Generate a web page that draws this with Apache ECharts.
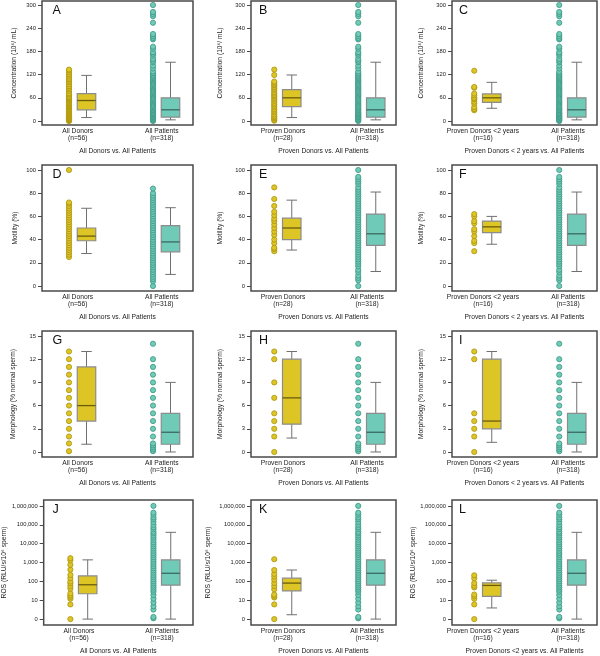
<!DOCTYPE html>
<html><head><meta charset="utf-8">
<script src="https://cdn.jsdelivr.net/npm/echarts@6/dist/echarts.min.js"></script>
<style>html,body{margin:0;padding:0;background:#fff}#c{width:600px;height:656px}</style>
</head><body><div id="c"></div>
<script>
// ---------- DATA ----------
const panelLetters = ['A','B','C','D','E','F','G','H','I','J','K','L'];
const donorCategories = ['All Donors\n(n=56)', 'Proven Donors\n(n=28)', 'Proven Donors <2 years\n(n=16)'];
const patientCategory = 'All Patients\n(n=318)';
const comparisonTitles = [
  ['All Donors vs. All Patients', 'Proven Donors vs. All Patients', 'Proven Donors < 2 years vs. All Patients'],
  ['All Donors vs. All Patients', 'Proven Donors vs. All Patients', 'Proven Donors < 2 years vs. All Patients'],
  ['All Donors vs. All Patients', 'Proven Donors vs. All Patients', 'Proven Donors < 2 years vs. All Patients'],
  ['All Donors vs. All Patients', 'Proven Donors vs. All Patients', 'Proven Donors <2 years vs. All Patients']
];
const yAxisNames = ['Concentration (10⁶/ mL)', 'Motility (%)', 'Morphology (% normal sperm)', 'ROS (RLU/s/10⁶ sperm)'];
const concTicks = [0, 60, 120, 180, 240, 300];
const motTicks = [0, 20, 40, 60, 80, 100];
const morphTicks = [0, 3, 6, 9, 12, 15];
const rosTicks = [0, 10, 100, 1000, 10000, 100000, 1000000];

// Concentration (10^6/mL)
const concAllDonors = [0, 1, 2, 3, 4, 5, 6, 7, 8, 9, 10, 12, 14, 16, 18, 20, 22, 24, 26, 28, 30, 32, 34, 36, 38, 40, 42, 44, 46, 48, 50, 52, 54, 56, 58, 60, 62, 65, 69, 72, 78, 82, 86, 90, 95, 100, 104, 108, 112, 117, 121, 126, 131, 133];
const concProvenDonors = [1, 4, 7, 10, 13, 17, 22, 26, 30, 35, 39, 43, 47, 52, 56, 60, 64, 67, 71, 75, 80, 84, 88, 92, 95, 99, 102, 119, 133];
const concProvenU2 = [28, 31, 36, 45, 50, 56, 59, 60, 66, 71, 86, 88, 130];
const concPatients = [0, 2, 4, 6, 8, 10, 12, 14, 16, 18, 20, 22, 25, 28, 30, 33, 36, 39, 42, 45, 48, 51, 54, 57, 60, 63, 66, 69, 72, 75, 78, 81, 84, 87, 90, 93, 96, 99, 102, 105, 108, 111, 114, 117, 120, 124, 128, 136, 143, 152, 156, 161, 169, 174, 178, 187, 192, 211, 215, 220, 225, 254, 271, 277, 282, 300];
const concBoxAllDonors = [9, 29, 53, 71, 118];
const concBoxProven = [9, 37, 60, 81, 119];
const concBoxProvenU2 = [33, 48, 60, 70, 100];
const concBoxPatients = [3, 10, 29, 60, 152];

// Motility (%)
const motAllDonors = [25, 27, 29, 31, 33, 35, 37, 39, 41, 43, 45, 47, 49, 51, 53, 55, 57, 59, 61, 63, 65, 67, 69, 71, 72, 100];
const motProvenDonors = [30, 32, 33, 37, 40, 44, 47, 50, 53, 56, 58, 61, 64, 69, 75, 85];
const motProvenU2 = [30, 37, 39, 43, 47, 49, 54, 56, 60, 62];
const motPatientsD = [0, 4, 6, 8, 10, 12, 14, 16, 18, 20, 22, 24, 26, 28, 30, 32, 34, 36, 38, 40, 42, 44, 46, 48, 50, 52, 54, 56, 58, 60, 62, 64, 66, 68, 70, 72, 74, 76, 78, 80, 84];
const motPatientsEF = [0, 5, 7, 9, 12, 14, 17, 19, 21, 23, 25, 27, 29, 31, 33, 35, 37, 39, 41, 43, 45, 47, 49, 51, 53, 55, 57, 59, 61, 63, 65, 67, 69, 71, 73, 75, 77, 79, 81, 83, 85, 88, 90, 92, 94, 100];
const motBoxAllDonors = [28, 39, 43, 50, 67];
const motBoxProven = [31, 40, 50, 58.5, 74];
const motBoxProvenU2 = [36, 46, 51, 56, 60];
const motBoxPatientsD = [10, 29.5, 38, 52, 67.5];
const motBoxPatientsEF = [12.5, 35, 45, 62, 81];

// Morphology (% normal sperm)
const morphAllDonors = [0.1, 1.1, 2, 3, 4, 5, 6, 7, 8, 9, 10, 11, 12, 13];
const morphProvenDonors = [0, 2, 3, 4, 5, 7, 9, 12, 13];
const morphProvenU2 = [0, 2, 3, 4, 5, 12, 13];
const morphPatients = [0.1, 0.35, 0.6, 0.85, 1.1, 2, 3, 4, 5, 6, 7, 8, 9, 10, 11, 12, 14];
const morphBoxAllDonors = [1, 4, 6, 11, 13];
const morphBoxProven = [1.8, 3.6, 7, 12, 13];
const morphBoxProvenU2 = [1.25, 3, 4, 12, 13];
const morphBoxPatients = [0, 1, 2.55, 5, 9];

// ROS (RLU/s/10^6 sperm)
const rosAllDonors = [0, 6, 12, 15, 18, 23, 41, 56, 78, 98, 147, 220, 415, 760, 1300, 1700];
const rosProvenDonors = [0, 6, 14, 17, 20, 38, 56, 81, 125, 180, 247, 400, 1490];
const rosProvenU2 = [0, 6, 12, 16, 20, 48, 59, 81, 147, 210];
const rosPatients = [1.1, 1.3, 3.2, 4.8, 7.6, 12, 19, 28, 36, 47, 60, 78, 100, 130, 170, 220, 290, 380, 500, 650, 850, 1100, 1450, 1900, 2500, 3200, 4200, 5500, 7200, 9400, 12000, 16000, 21000, 27000, 35000, 43000, 59000, 74000, 100000, 140000, 195000, 245000, 340000, 436000, 1000000];
const rosBoxAllDonors = [1, 22, 66, 195, 1380];
const rosBoxProven = [1.7, 31, 81, 147, 400];
const rosBoxProvenU2 = [3.9, 16, 61, 84, 115];
const rosBoxPatients = [1, 63, 268, 1380, 39800];

// ---------- LAYOUT / STYLE ----------
const FONT = '"Liberation Sans", Arial, Helvetica, sans-serif';
const YEL = '#DEC526', YEL_EDGE = '#A8930E', YEL_MED = '#6a5c10';
const TEAL = '#6FCAB7', TEAL_EDGE = '#3A9582', TEAL_MED = '#3c6a62';
const TXT = '#222';

const cols = [
  {left: 42, width: 151, g: [35.75, 119.75]},
  {left: 251, width: 145, g: [32, 116]},
  {left: 452, width: 145, g: [31, 116]}
];
const rows = [
  {top: 1, height: 124, min: -10.3, max: 310.3, ticks: concTicks, log: false, nameGap: [24, 27, 27]},
  {top: 165, height: 126, min: -4.3, max: 104.3, ticks: motTicks, log: false, nameGap: [23.5, 27.5, 27.5]},
  {top: 331, height: 126, min: -0.65, max: 15.65, ticks: morphTicks, log: false, nameGap: [25, 27, 27.5]},
  {top: 500, height: 127, min: -0.313, max: 6.313, ticks: rosTicks, log: true, nameGap: [35, 39, 34]}
];
const panelData = [
  [[concAllDonors, concBoxAllDonors, concPatients, concBoxPatients],
   [concProvenDonors, concBoxProven, concPatients, concBoxPatients],
   [concProvenU2, concBoxProvenU2, concPatients, concBoxPatients]],
  [[motAllDonors, motBoxAllDonors, motPatientsD, motBoxPatientsD],
   [motProvenDonors, motBoxProven, motPatientsEF, motBoxPatientsEF],
   [motProvenU2, motBoxProvenU2, motPatientsEF, motBoxPatientsEF]],
  [[morphAllDonors, morphBoxAllDonors, morphPatients, morphBoxPatients],
   [morphProvenDonors, morphBoxProven, morphPatients, morphBoxPatients],
   [morphProvenU2, morphBoxProvenU2, morphPatients, morphBoxPatients]],
  [[rosAllDonors, rosBoxAllDonors, rosPatients, rosBoxPatients],
   [rosProvenDonors, rosBoxProven, rosPatients, rosBoxPatients],
   [rosProvenU2, rosBoxProvenU2, rosPatients, rosBoxPatients]]
];

function tf(log) { return log ? (v => Math.log10(Math.max(v, 1))) : (v => v); }

function boxRenderer(fill, med) {
  return function (params, api) {
    const x = api.value(0);
    const lo = api.coord([x, api.value(1)]);
    const q1 = api.coord([x, api.value(2)]);
    const md = api.coord([x, api.value(3)]);
    const q3 = api.coord([x, api.value(4)]);
    const hi = api.coord([x, api.value(5)]);
    const cx = lo[0], hw = 9.25, cw = 5.25;
    const ws = {stroke: '#707070', lineWidth: 1};
    return {type: 'group', children: [
      {type: 'line', shape: {x1: cx, y1: hi[1], x2: cx, y2: q3[1]}, style: ws},
      {type: 'line', shape: {x1: cx, y1: q1[1], x2: cx, y2: lo[1]}, style: ws},
      {type: 'line', shape: {x1: cx - cw, y1: hi[1], x2: cx + cw, y2: hi[1]}, style: ws},
      {type: 'line', shape: {x1: cx - cw, y1: lo[1], x2: cx + cw, y2: lo[1]}, style: ws},
      {type: 'rect', shape: {x: cx - hw, y: q3[1], width: 2 * hw, height: q1[1] - q3[1]},
       style: {fill: fill, stroke: '#8c8c8c', lineWidth: 1.2}},
      {type: 'line', shape: {x1: cx - hw, y1: md[1], x2: cx + hw, y2: md[1]}, style: {stroke: med, lineWidth: 1.3}}
    ]};
  };
}

const grids = [], xAxes = [], yAxes = [], series = [], titles = [];
let idx = 0;
rows.forEach((r, ri) => {
  const t = tf(r.log);
  cols.forEach((c, ci) => {
    const [dv, db, pv, pb] = panelData[ri][ci];
    grids.push({left: c.left, top: r.top, width: c.width, height: r.height,
      show: true, borderColor: '#4a4a4a', borderWidth: 1.5, backgroundColor: 'transparent'});
    const g1 = c.g[0], g2 = c.g[1];
    const donorLbl = donorCategories[ci];
    xAxes.push({gridIndex: idx, type: 'value', min: 0, max: c.width,
      axisLine: {show: false, onZero: false}, axisTick: {show: false}, splitLine: {show: false},
      axisLabel: {customValues: [g1, g2], margin: 3, fontSize: 6.7, lineHeight: 7, color: TXT, fontFamily: FONT,
        formatter: v => (Math.abs(v - g1) < 1 ? donorLbl : patientCategory)},
      name: comparisonTitles[ri][ci], nameLocation: 'middle', nameGap: 23,
      nameTextStyle: {fontSize: 6.7, color: TXT, fontFamily: FONT}});
    const tickVals = r.ticks.map(t);
    yAxes.push({gridIndex: idx, type: 'value', min: r.min, max: r.max,
      axisLine: {show: false, onZero: false}, splitLine: {show: false},
      axisTick: {show: true, customValues: tickVals, length: 4, lineStyle: {color: '#4a4a4a', width: 1}},
      axisLabel: {customValues: tickVals, margin: 6, fontSize: 5.8, color: TXT, fontFamily: FONT,
        formatter: v => r.log ? (v <= 0.0001 ? '0' : Math.round(Math.pow(10, v)).toLocaleString('en-US')) : String(Math.round(v))},
      name: yAxisNames[ri], nameLocation: 'middle', nameRotate: 90, nameGap: r.nameGap[ci],
      nameTextStyle: {fontSize: 6.7, color: TXT, fontFamily: FONT}});
    const dxD = g1 - 8.75, dxB = g1 + 8.75, pxD = g2 - 8.75, pxB = g2 + 8.75;
    series.push({type: 'scatter', xAxisIndex: idx, yAxisIndex: idx, symbolSize: 5.2, z: 3,
      itemStyle: {color: YEL, borderColor: YEL_EDGE, borderWidth: 0.8, opacity: 1},
      data: dv.map(v => [dxD, t(v)]), silent: true, clip: false});
    series.push({type: 'scatter', xAxisIndex: idx, yAxisIndex: idx, symbolSize: 5.2, z: 3,
      itemStyle: {color: TEAL, borderColor: TEAL_EDGE, borderWidth: 0.8, opacity: 1},
      data: pv.map(v => [pxD, t(v)]), silent: true, clip: false});
    series.push({type: 'custom', xAxisIndex: idx, yAxisIndex: idx, z: 2, silent: true,
      renderItem: boxRenderer(YEL, YEL_MED), encode: {x: 0, y: [1, 2, 3, 4, 5]},
      data: [[dxB].concat(db.map(t))]});
    series.push({type: 'custom', xAxisIndex: idx, yAxisIndex: idx, z: 2, silent: true,
      renderItem: boxRenderer(TEAL, TEAL_MED), encode: {x: 0, y: [1, 2, 3, 4, 5]},
      data: [[pxB].concat(pb.map(t))]});
    const letterOff = [10.5, 8, 7][ci];
    titles.push({text: panelLetters[idx], left: c.left + letterOff, top: r.top + 3.5, padding: 0,
      textStyle: {fontSize: 12.5, fontWeight: 'normal', color: '#111', fontFamily: FONT}});
    idx++;
  });
});

const chart = echarts.init(document.getElementById('c'), null, {renderer: 'canvas'});
chart.setOption({animation: false, backgroundColor: '#fff', title: titles,
  grid: grids, xAxis: xAxes, yAxis: yAxes, series: series});
</script></body></html>
